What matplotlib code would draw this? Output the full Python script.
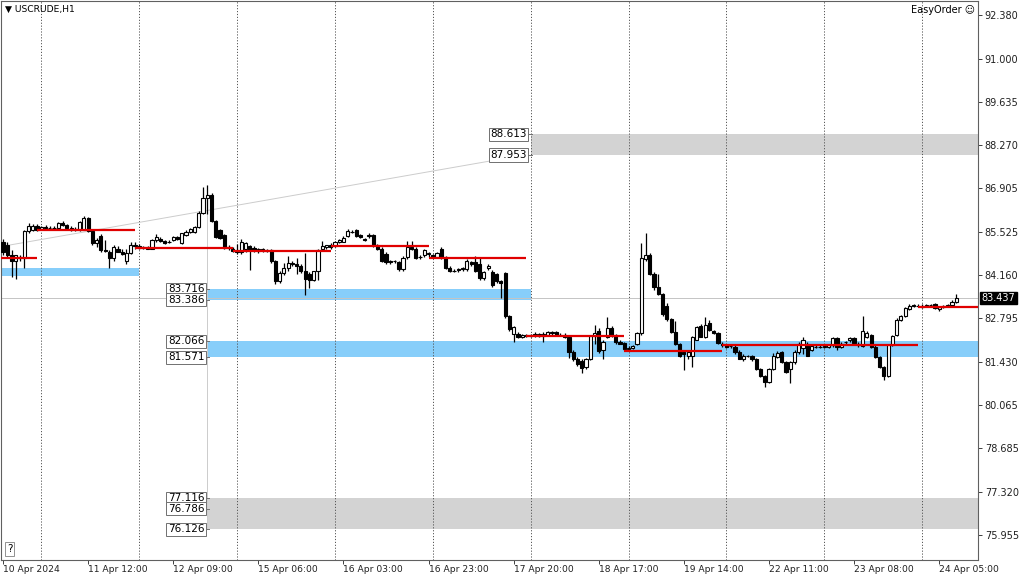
import matplotlib
matplotlib.use('Agg')
import matplotlib.pyplot as plt
import matplotlib.transforms as mtransforms
import numpy as np

# H1 candles, 10 Apr 15:00 .. 24 Apr (one row per trading day)
opens = [
    85.20, 85.10, 84.80, 84.60, 84.72, 84.70, 85.55, 85.60, 85.72,
    85.62, 85.68, 85.66, 85.64, 85.66, 85.80, 85.74, 85.66, 85.62, 85.58, 85.60, 85.96, 85.56, 85.16, 85.40, 84.96, 84.90, 84.70, 85.00, 84.90, 84.62, 84.86, 85.12,
    85.08, 85.02, 85.04, 85.00, 85.26, 85.30, 85.24, 85.20, 85.28, 85.36, 85.18, 85.43, 85.52, 85.52, 85.68, 86.13, 86.60, 86.70, 85.86, 85.60, 85.42, 85.02, 84.98,
    84.92, 84.90, 85.00, 85.08, 85.02, 84.92, 84.98, 84.96, 84.94, 84.60, 83.98, 84.22, 84.38, 84.55, 84.50, 84.44, 84.30, 84.20, 84.02, 84.28, 84.98, 85.06, 85.10,
    85.08, 85.20, 85.22, 85.38, 85.52, 85.58, 85.42, 85.30, 85.38, 85.42, 85.10, 85.00, 84.82, 84.60, 84.60, 84.56, 84.36, 84.72, 85.04, 85.00, 84.74, 84.78, 84.82,
    84.80, 84.74, 85.00, 84.72, 84.40, 84.30, 84.32, 84.36, 84.34, 84.58, 84.56, 84.50, 84.06, 84.40, 84.26, 84.20, 83.96, 84.22, 82.86, 82.30, 82.30, 82.20, 82.26,
    82.24, 82.28, 82.30, 82.24, 82.28, 82.36, 82.36, 82.28, 82.28, 82.22, 81.74, 81.52, 81.45, 81.25, 81.52, 82.24, 82.40, 81.80, 82.20, 82.50, 82.26, 82.06, 82.02,
    81.84, 81.86, 81.98, 82.32, 84.68, 84.80, 84.20, 83.80, 83.56, 83.20, 82.76, 82.36, 81.98, 81.72, 81.60, 81.60, 82.12, 82.56, 82.22, 82.65, 82.40, 82.32, 82.00,
    81.94, 81.92, 81.90, 81.74, 81.50, 81.60, 81.60, 81.50, 81.20, 80.98, 80.78, 81.20, 81.58, 81.72, 81.42, 81.18, 81.40, 81.72, 81.86, 82.00, 81.80, 81.90, 81.90,
    81.90, 81.90, 81.94, 82.16, 81.90, 82.04, 82.10, 82.16, 82.00, 81.92, 82.20, 82.26, 81.90, 81.56, 81.26, 80.98, 81.96, 82.28, 82.74, 82.88, 83.10, 83.22, 83.20,
    83.18, 83.18, 83.22, 83.24, 83.10, 83.16, 83.20, 83.22, 83.30,
]
highs = [
    85.30, 85.20, 84.95, 84.80, 84.78, 85.60, 85.80, 85.76, 85.76,
    85.72, 85.74, 85.72, 85.70, 85.85, 85.86, 85.78, 85.70, 85.68, 85.88, 86.02, 86.00, 85.60, 85.32, 85.45, 85.28, 84.95, 85.10, 85.08, 84.98, 84.98, 85.20, 85.20,
    85.14, 85.08, 85.08, 85.30, 85.45, 85.36, 85.28, 85.26, 85.40, 85.40, 85.50, 85.60, 85.66, 85.72, 86.20, 86.95, 87.00, 86.75, 85.90, 85.62, 85.46, 85.10, 85.05,
    85.15, 85.30, 85.22, 85.12, 85.08, 85.02, 85.02, 85.00, 84.98, 84.64, 84.30, 84.55, 84.75, 84.62, 84.70, 84.50, 84.85, 84.25, 84.30, 85.00, 85.24, 85.12, 85.16,
    85.24, 85.30, 85.40, 85.62, 85.58, 85.62, 85.46, 85.34, 85.50, 85.46, 85.14, 85.04, 84.90, 84.64, 84.64, 84.60, 84.76, 85.25, 85.25, 85.04, 84.80, 85.00, 84.90,
    84.84, 84.90, 85.05, 84.76, 84.46, 84.36, 84.38, 84.42, 84.68, 84.62, 84.75, 84.72, 84.30, 84.50, 84.32, 84.24, 84.00, 84.25, 82.90, 82.56, 82.36, 82.30, 82.30,
    82.30, 82.36, 82.34, 82.36, 82.40, 82.40, 82.40, 82.32, 82.32, 82.26, 81.78, 81.56, 81.50, 81.55, 82.28, 82.60, 82.50, 82.10, 82.85, 82.56, 82.30, 82.10, 82.06,
    81.92, 81.96, 82.36, 85.18, 85.50, 84.86, 84.26, 84.20, 83.60, 83.28, 82.80, 82.72, 82.02, 81.76, 81.80, 82.25, 82.56, 82.62, 82.84, 82.75, 82.44, 82.36, 82.04,
    82.00, 81.96, 81.94, 81.78, 81.66, 81.64, 81.64, 81.54, 81.24, 81.02, 81.24, 81.70, 81.76, 81.76, 81.46, 81.44, 81.78, 82.04, 82.20, 82.04, 81.96, 81.94, 81.94,
    81.96, 81.98, 82.20, 82.20, 82.04, 82.08, 82.22, 82.20, 82.04, 82.88, 82.40, 82.30, 81.94, 81.60, 81.30, 82.00, 82.28, 82.80, 82.90, 83.14, 83.24, 83.26, 83.24,
    83.24, 83.26, 83.26, 83.28, 83.18, 83.22, 83.24, 83.36, 83.56,
]
lows = [
    84.80, 84.70, 84.10, 84.05, 84.62, 84.40, 85.50, 85.55, 85.55,
    85.58, 85.62, 85.60, 85.60, 85.62, 85.70, 85.64, 85.56, 85.55, 85.55, 85.58, 85.52, 85.10, 85.05, 84.90, 84.88, 84.38, 84.62, 84.88, 84.78, 84.50, 84.82, 85.00,
    84.98, 84.98, 84.98, 84.98, 85.20, 85.20, 85.14, 85.16, 85.24, 85.26, 85.14, 85.40, 85.48, 85.50, 85.66, 86.10, 86.10, 85.84, 85.32, 85.30, 84.98, 84.96, 84.90,
    84.82, 84.84, 84.90, 84.33, 84.90, 84.86, 84.90, 84.88, 84.55, 83.88, 83.92, 84.16, 84.30, 84.44, 84.20, 84.22, 83.54, 83.76, 83.96, 84.00, 84.95, 85.00, 85.00,
    85.04, 85.16, 85.20, 85.36, 85.48, 85.36, 85.32, 85.24, 85.34, 85.06, 84.94, 84.56, 84.50, 84.52, 84.54, 84.30, 84.30, 84.68, 84.96, 84.66, 84.68, 84.74, 84.74,
    84.70, 84.70, 84.68, 84.36, 84.26, 84.26, 84.26, 84.30, 84.30, 84.46, 84.26, 84.01, 84.02, 84.32, 83.80, 83.92, 83.44, 82.80, 82.40, 82.06, 82.18, 82.16, 82.20,
    82.20, 82.22, 82.20, 82.05, 82.24, 82.28, 82.24, 82.24, 82.16, 81.54, 81.46, 81.30, 81.07, 81.20, 81.48, 82.00, 81.70, 81.50, 82.16, 82.22, 82.00, 81.98, 81.78,
    81.80, 81.82, 81.96, 82.28, 84.60, 84.16, 83.70, 83.52, 82.88, 82.72, 82.32, 81.94, 81.56, 81.17, 81.50, 81.26, 82.10, 82.20, 82.18, 82.40, 82.30, 81.98, 81.90,
    81.86, 81.86, 81.68, 81.50, 81.46, 81.56, 81.46, 81.16, 80.94, 80.63, 80.74, 81.16, 81.54, 81.38, 81.06, 80.76, 81.36, 81.68, 81.66, 81.60, 81.76, 81.86, 81.86,
    81.86, 81.86, 81.90, 81.80, 81.86, 82.00, 82.06, 81.98, 81.90, 81.88, 82.16, 81.86, 81.54, 81.23, 80.85, 80.94, 81.92, 82.24, 82.70, 82.84, 83.06, 83.16, 83.14,
    83.12, 83.14, 83.18, 83.08, 83.04, 83.12, 83.18, 83.20, 83.28,
]
closes = [
    84.88, 84.80, 84.60, 84.78, 84.70, 85.55, 85.70, 85.70, 85.60,
    85.68, 85.66, 85.64, 85.66, 85.80, 85.74, 85.66, 85.58, 85.58, 85.84, 85.96, 85.56, 85.16, 85.26, 84.96, 84.92, 84.70, 85.05, 84.90, 84.82, 84.86, 85.12, 85.08,
    85.02, 85.04, 85.00, 85.26, 85.36, 85.24, 85.18, 85.22, 85.36, 85.30, 85.48, 85.52, 85.62, 85.68, 86.13, 86.60, 86.70, 85.86, 85.36, 85.34, 85.02, 85.06, 84.92,
    84.90, 85.20, 85.18, 84.96, 84.94, 84.98, 84.94, 84.92, 84.60, 83.98, 84.24, 84.38, 84.55, 84.50, 84.46, 84.28, 84.03, 84.00, 84.28, 84.96, 85.08, 85.10, 85.06,
    85.20, 85.26, 85.34, 85.54, 85.52, 85.40, 85.36, 85.28, 85.42, 85.10, 84.98, 84.60, 84.58, 84.58, 84.60, 84.36, 84.70, 85.04, 85.00, 84.70, 84.72, 84.96, 84.86,
    84.72, 84.86, 84.72, 84.40, 84.30, 84.30, 84.34, 84.38, 84.60, 84.50, 84.30, 84.06, 84.26, 84.46, 83.86, 83.96, 83.90, 82.86, 82.45, 82.52, 82.22, 82.26, 82.24,
    82.26, 82.30, 82.24, 82.30, 82.36, 82.32, 82.28, 82.28, 82.20, 81.74, 81.50, 81.34, 81.22, 81.50, 82.24, 82.32, 81.76, 82.06, 82.48, 82.26, 82.06, 82.00, 81.82,
    81.86, 81.92, 82.32, 84.70, 84.80, 84.20, 83.80, 83.56, 82.92, 82.78, 82.36, 81.98, 81.60, 81.66, 81.74, 82.20, 82.52, 82.22, 82.60, 82.44, 82.32, 82.02, 81.94,
    81.90, 81.92, 81.72, 81.52, 81.60, 81.60, 81.50, 81.20, 80.98, 80.78, 81.20, 81.62, 81.70, 81.42, 81.10, 81.40, 81.72, 81.98, 82.10, 81.62, 81.92, 81.90, 81.90,
    81.92, 81.96, 82.16, 81.88, 82.00, 82.04, 82.18, 82.02, 81.94, 82.40, 82.34, 81.90, 81.58, 81.26, 80.98, 81.96, 82.24, 82.74, 82.86, 83.12, 83.20, 83.20, 83.18,
    83.16, 83.22, 83.22, 83.12, 83.16, 83.18, 83.22, 83.32, 83.437,
]

# daily open levels (10 Apr .. 24 Apr) and the bar where each day starts
day_open = [84.70, 85.59, 85.02, 84.92, 85.08, 84.70, 82.24, 81.77, 81.96, 81.96, 83.16]
day_start = [-14, 9, 32, 55, 78, 101, 124, 147, 170, 193, 216]

# zones: (from bar, to bar, low, high)
blue_zones = [(-5, 32, 84.14, 84.40), (47.9, 124, 83.386, 83.716), (47.9, 240, 81.571, 82.066)]
gray_zones = [(124, 240, 87.953, 88.613), (47.9, 240, 76.126, 77.116)]
left_labels = [83.716, 83.386, 82.066, 81.571, 77.116, 76.786, 76.126]
top_labels = [88.613, 87.953]

price_ticks = [92.380, 91.000, 89.635, 88.270, 86.905, 85.525, 84.160,
               82.795, 81.430, 80.065, 78.685, 77.320, 75.955]
time_ticks = [0, 20, 40, 60, 80, 100, 120, 140, 160, 180, 200, 220]
time_labels = ['10 Apr 2024', '11 Apr 12:00', '12 Apr 09:00', '15 Apr 06:00',
               '16 Apr 03:00', '16 Apr 23:00', '17 Apr 20:00', '18 Apr 17:00',
               '19 Apr 14:00', '22 Apr 11:00', '23 Apr 08:00', '24 Apr 05:00']
last_price = 83.437

fs = 6.6
fig = plt.figure(figsize=(10.24, 5.76), dpi=100)
ax = fig.add_axes([0.001, 0.028, 0.954, 0.9705])
ax.set_xlim(-0.47, 229.1)
ax.set_ylim(75.166, 92.822)

# zones
for x0, x1, lo, hi in blue_zones:
    ax.fill_between([x0, x1], lo, hi, color='#87cefa', lw=0, zorder=1)
for x0, x1, lo, hi in gray_zones:
    ax.fill_between([x0, x1], lo, hi, color='#d3d3d3', lw=0, zorder=1)

# day separators
for s in day_start[1:]:
    ax.axvline(s, color='#555555', ls=(0, (1.2, 1.8)), lw=0.7, zorder=2)

# thin lines
ax.axhline(last_price, color='#c4c4c4', lw=0.7, zorder=2)
ax.plot([-1, 116], [85.05, 87.80], color='#cccccc', lw=0.7, zorder=2)
ax.vlines(47.9, 76.126, 87.0, color='#cccccc', lw=0.7, zorder=2)

# candles
o = np.array(opens)
h = np.array(highs)
l = np.array(lows)
c = np.array(closes)
x = np.arange(len(c))
ax.vlines(x, l, h, color='black', lw=0.9, zorder=3)
faces = ['white' if cc >= oo else 'black' for oo, cc in zip(o, c)]
ax.bar(x, np.abs(c - o), bottom=np.minimum(o, c), width=0.75, color=faces,
       edgecolor='black', lw=0.8, zorder=4)

# daily open lines
for s, lvl in zip(day_start, day_open):
    ax.plot([s - 1, s + 22], [lvl, lvl], color='#e00000', lw=1.6, zorder=5,
            solid_capstyle='butt')

# price labels of zones
box = dict(boxstyle='square,pad=0.15', fc='white', ec='#707070', lw=0.7)
for p in left_labels:
    ax.text(47.3, p, f'{p:.3f}', ha='right', va='center', fontsize=7.5,
            bbox=box, zorder=7)
    ax.plot([47.6, 48.3], [p, p], color='#707070', lw=0.7, zorder=6)
for p in top_labels:
    ax.text(123.1, p, f'{p:.3f}', ha='right', va='center', fontsize=7.5,
            bbox=box, zorder=7)
    ax.plot([123.4, 124.2], [p, p], color='#707070', lw=0.7, zorder=6)

# axes styling
for sp in ax.spines.values():
    sp.set_color('#606060')
    sp.set_linewidth(0.8)
ax.yaxis.tick_right()
ax.set_yticks(price_ticks)
ax.set_yticklabels([f'{p:.3f}' for p in price_ticks], fontsize=7)
ax.tick_params(axis='y', length=3, width=0.6, pad=2, colors='#202020')
ax.set_xticks(time_ticks)
ax.set_xticklabels(time_labels, fontsize=fs, ha='left')
ax.tick_params(axis='x', length=3, width=0.6, pad=1, colors='#202020')

trans = mtransforms.blended_transform_factory(ax.transAxes, ax.transData)
ax.text(1.004, last_price, f'{last_price:.3f}', transform=trans, ha='left',
        va='center', fontsize=7, color='white', zorder=8, clip_on=False,
        bbox=dict(boxstyle='square,pad=0.15', fc='black', ec='black'))

ax.text(0.004, 0.993, '\u25BC USCRUDE,H1', transform=ax.transAxes, ha='left',
        va='top', fontsize=fs)
ax.text(0.997, 0.993, 'EasyOrder \u263A', transform=ax.transAxes, ha='right',
        va='top', fontsize=7)
ax.text(0.006, 0.01, '?', transform=ax.transAxes, ha='left', va='bottom',
        fontsize=7.5, bbox=dict(boxstyle='square,pad=0.2', fc='white', ec='#808080', lw=0.6))

fig.savefig('out.png', dpi=100)
